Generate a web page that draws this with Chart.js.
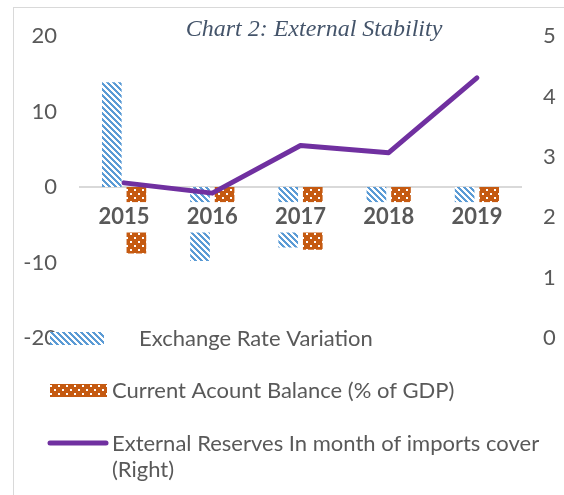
<!DOCTYPE html>
<html>
<head>
<meta charset="utf-8">
<script src="https://cdn.jsdelivr.net/npm/chart.js@4"></script>
<style>
html,body{margin:0;padding:0;background:#fff;}
#wrap{position:relative;width:564px;height:495px;}
</style>
</head>
<body>
<div id="wrap"><canvas id="chart" width="564" height="495"></canvas></div>
<script>
/* ---------- data ---------- */
const years = ["2015", "2016", "2017", "2018", "2019"];
const exchangeRateVariation = [13.9, -9.8, -8.0, -3.5, -3.0];
const currentAccountBalance = [-8.8, -4.0, -8.3, -4.5, -3.5];
const reservesMonths = [2.57, 2.40, 3.19, 3.07, 4.31];
const leftRange = [-20, 20];
const rightRange = [0, 5];

const titleText = "Chart 2: External Stability";
const legendLabels = ["Exchange Rate Variation", "Current Acount Balance (% of GDP)", "External Reserves In month of imports cover", "(Right)"];

/* ---------- patterns ---------- */
function makePattern(kind) {
    const c = document.createElement("canvas");
    const g = c.getContext("2d");
    if (kind === "stripes") {
        c.width = 6; c.height = 6;
        g.fillStyle = "#fff"; g.fillRect(0, 0, 6, 6);
        g.fillStyle = "#5B9BD5";
        for (let y = 0; y < 6; y++) for (let x = 0; x < 6; x++) {
            if (((x - y) % 6 + 6) % 6 < 3) g.fillRect(x, y, 1, 1);
        }
    } else {
        c.width = 8; c.height = 8;
        g.fillStyle = "#C55A11"; g.fillRect(0, 0, 8, 8);
        g.fillStyle = "#fff";
        g.fillRect(2, 1, 2, 2); g.fillRect(6, 5, 2, 2);
    }
    return g.createPattern(c, "repeat");
}
const stripes = makePattern("stripes");
const dots = makePattern("dots");

const textGrey = "#595959";
const tickFont = {family: "Lato", size: 22};

/* ---------- title, border, legend ---------- */
const decor = {
    id: "decor",
    beforeDraw(chart) {
        const ctx = chart.ctx;
        ctx.save();
        ctx.strokeStyle = "#D9D9D9";
        ctx.lineWidth = 1;
        ctx.strokeRect(13.5, 7.5, 700, 700);
        ctx.restore();
    },
    afterDraw(chart) {
        const ctx = chart.ctx;
        ctx.save();
        // title
        ctx.font = "italic 24px 'Liberation Serif'";
        ctx.fillStyle = "#44546A";
        ctx.textAlign = "center";
        ctx.textBaseline = "middle";
        ctx.fillText(titleText, 314, 30);

        // legend
        ctx.textAlign = "left";
        ctx.font = "22px Lato";
        ctx.fillStyle = "#fff";
        ctx.fillRect(50, 332, 54, 13);
        ctx.fillStyle = stripes;
        ctx.fillRect(50, 332, 54, 13);
        ctx.fillStyle = textGrey;
        ctx.fillText(legendLabels[0], 139, 339);

        ctx.fillStyle = dots;
        ctx.fillRect(50, 384, 57, 13);
        ctx.fillStyle = textGrey;
        ctx.fillText(legendLabels[1], 112, 391);

        ctx.strokeStyle = "#7030A0";
        ctx.lineWidth = 5;
        ctx.lineCap = "round";
        ctx.beginPath(); ctx.moveTo(50, 443); ctx.lineTo(106, 443); ctx.stroke();
        ctx.fillStyle = textGrey;
        ctx.fillText(legendLabels[2], 112, 444);
        ctx.fillText(legendLabels[3], 112, 470);
        ctx.restore();
    }
};

/* ---------- chart ---------- */
const ctx = document.getElementById("chart").getContext("2d");
new Chart(ctx, {
    type: "bar",
    data: {
        labels: years,
        datasets: [
            {
                type: "line",
                label: legendLabels[2] + " " + legendLabels[3],
                data: reservesMonths,
                yAxisID: "y1",
                borderColor: "#7030A0",
                borderWidth: 5,
                borderCapStyle: "round",
                borderJoinStyle: "round",
                pointRadius: 0,
                tension: 0,
                order: 0
            },
            {
                label: legendLabels[0],
                data: exchangeRateVariation,
                backgroundColor: stripes,
                yAxisID: "y",
                categoryPercentage: 0.557,
                barPercentage: 0.8,
                order: 1
            },
            {
                label: legendLabels[1],
                data: currentAccountBalance,
                backgroundColor: dots,
                yAxisID: "y",
                categoryPercentage: 0.557,
                barPercentage: 0.8,
                order: 2
            }
        ]
    },
    options: {
        responsive: false,
        animation: false,
        layout: {padding: {top: 34, bottom: 157, left: 0, right: 0}},
        plugins: {legend: {display: false}, title: {display: false}, tooltip: {enabled: false}},
        scales: {
            x: {
                position: {y: 0},
                offset: true,
                grid: {display: false, drawTicks: false},
                border: {display: true, color: "#D9D9D9", width: 2},
                ticks: {
                    z: 1,
                    padding: 17,
                    color: textGrey,
                    font: {family: "Lato", size: 22, weight: "bold"},
                    showLabelBackdrop: true,
                    backdropColor: "#fff",
                    backdropPadding: {top: 2, bottom: 2, left: 1, right: 1}
                }
            },
            y: {
                position: "left",
                min: leftRange[0], max: leftRange[1],
                grid: {display: false, drawTicks: false},
                border: {display: false},
                ticks: {stepSize: 10, padding: 23, color: textGrey, font: tickFont},
                afterFit(s) { s.width = 80; }
            },
            y1: {
                position: "right",
                min: rightRange[0], max: rightRange[1],
                grid: {display: false, drawTicks: false},
                border: {display: false},
                ticks: {stepSize: 1, padding: 22, color: textGrey, font: tickFont},
                afterFit(s) { s.width = 43; }
            }
        }
    },
    plugins: [decor]
});
</script>
</body>
</html>
